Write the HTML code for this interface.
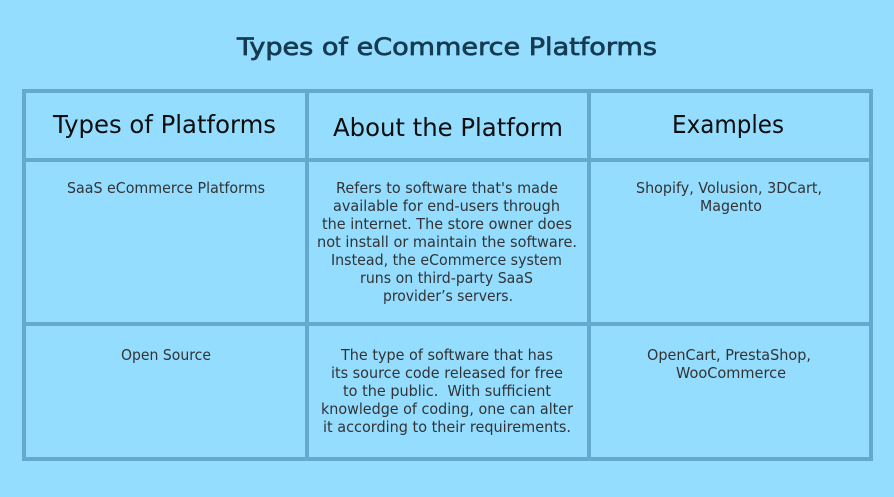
<!DOCTYPE html>
<html><head><meta charset="utf-8"><style>
html,body{margin:0;padding:0;background:#94ddff;}
svg{display:block;}
.b{font-family:"DejaVu Sans","Liberation Sans",sans-serif;font-size:15px;fill:#333333;}
.h{font-family:"DejaVu Sans","Liberation Sans",sans-serif;font-size:25px;fill:#0d0d0d;}
</style></head><body>
<svg width="894" height="497" viewBox="0 0 894 497" xmlns="http://www.w3.org/2000/svg">
<rect x="0" y="0" width="894" height="497" fill="#94ddff"/>
<g fill="#64aacf">
<rect x="22" y="89" width="4" height="372"/>
<rect x="305" y="89" width="4" height="372"/>
<rect x="587" y="89" width="4" height="372"/>
<rect x="869" y="89" width="4" height="372"/>
<rect x="22" y="89" width="851" height="4"/>
<rect x="22" y="158" width="851" height="4"/>
<rect x="22" y="322" width="851" height="4"/>
<rect x="22" y="457" width="851" height="4"/>
</g>
<text x="237" y="55" font-family="DejaVu Sans, Liberation Sans, sans-serif" font-size="24" fill="#163b50" stroke="#163b50" stroke-width="0.7" textLength="420" lengthAdjust="spacingAndGlyphs">Types of eCommerce Platforms</text>

<text class="h" x="53" y="133" textLength="223" lengthAdjust="spacingAndGlyphs">Types of Platforms</text>
<text class="h" x="333" y="136" textLength="230" lengthAdjust="spacingAndGlyphs">About the Platform</text>
<text class="h" x="672" y="133" textLength="112" lengthAdjust="spacingAndGlyphs">Examples</text>

<text class="b" x="67" y="193" textLength="198" lengthAdjust="spacingAndGlyphs">SaaS eCommerce Platforms</text>

<text class="b" x="336" y="193" textLength="222" lengthAdjust="spacingAndGlyphs">Refers to software that's made</text>
<text class="b" x="333" y="211" textLength="227" lengthAdjust="spacingAndGlyphs">available for end-users through</text>
<text class="b" x="322" y="229" textLength="250" lengthAdjust="spacingAndGlyphs">the internet. The store owner does</text>
<text class="b" x="317" y="247" textLength="260" lengthAdjust="spacingAndGlyphs">not install or maintain the software.</text>
<text class="b" x="331" y="265" textLength="231" lengthAdjust="spacingAndGlyphs">Instead, the eCommerce system</text>
<text class="b" x="360" y="283" textLength="173" lengthAdjust="spacingAndGlyphs">runs on third-party SaaS</text>
<text class="b" x="383" y="301" textLength="130" lengthAdjust="spacingAndGlyphs">provider’s servers.</text>

<text class="b" x="636" y="193" textLength="186" lengthAdjust="spacingAndGlyphs">Shopify, Volusion, 3DCart,</text>
<text class="b" x="700" y="211" textLength="62" lengthAdjust="spacingAndGlyphs">Magento</text>

<text class="b" x="121" y="360" textLength="90" lengthAdjust="spacingAndGlyphs">Open Source</text>

<text class="b" x="341" y="360" textLength="212" lengthAdjust="spacingAndGlyphs">The type of software that has</text>
<text class="b" x="331" y="378" textLength="232" lengthAdjust="spacingAndGlyphs">its source code released for free</text>
<text class="b" x="343" y="396" textLength="208" lengthAdjust="spacingAndGlyphs">to the public.&#160; With sufficient</text>
<text class="b" x="321" y="414" textLength="252" lengthAdjust="spacingAndGlyphs">knowledge of coding, one can alter</text>
<text class="b" x="323" y="432" textLength="248" lengthAdjust="spacingAndGlyphs">it according to their requirements.</text>

<text class="b" x="647" y="360" textLength="164" lengthAdjust="spacingAndGlyphs">OpenCart, PrestaShop,</text>
<text class="b" x="676" y="378" textLength="110" lengthAdjust="spacingAndGlyphs">WooCommerce</text>
</svg>
</body></html>
